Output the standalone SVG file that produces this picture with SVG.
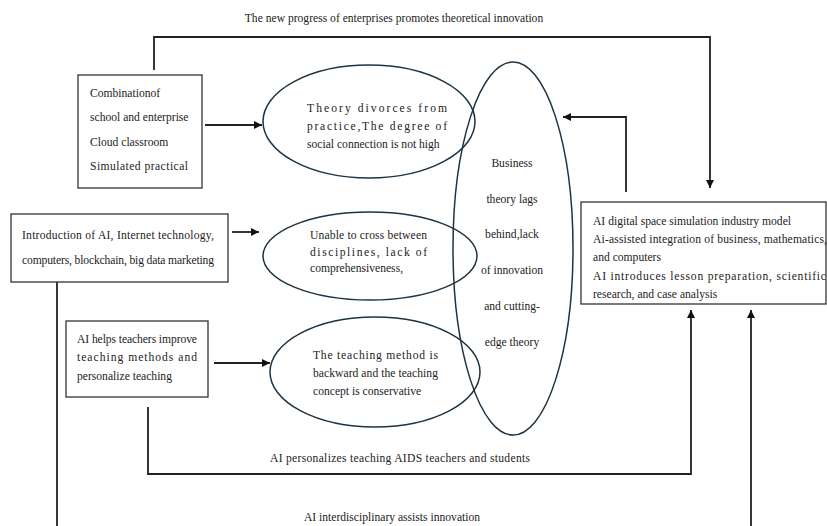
<svg xmlns="http://www.w3.org/2000/svg" width="827" height="526" viewBox="0 0 827 526" font-family="'Liberation Serif', 'Times New Roman', serif">
<style>
text{font-family:"Liberation Serif","Times New Roman",serif;font-size:11.6px;fill:#222}
.box{fill:#fff;stroke:#333;stroke-width:1.3}
.ell{fill:none;stroke:#1c3444;stroke-width:1.5}
.con{fill:none;stroke:#222;stroke-width:1.8}
.mid{text-anchor:middle}
</style>
<defs>
<marker id="ah" markerUnits="userSpaceOnUse" markerWidth="9" markerHeight="8" refX="8" refY="4" orient="auto">
<path d="M0,0 L8,4 L0,8 z" fill="#111"/>
</marker>
</defs>
<rect width="827" height="526" fill="#fff"/>

<g id="connectors">
<path class="con" d="M154,70 V37 H710 V188" marker-end="url(#ah)"/>
<path class="con" d="M205,125 H262" marker-end="url(#ah)"/>
<path class="con" d="M232,232 H259" marker-end="url(#ah)"/>
<path class="con" d="M214,363 H270" marker-end="url(#ah)"/>
<path class="con" d="M626,192 V117 H563" marker-end="url(#ah)"/>
<path class="con" d="M148,407 V474 H691 V310" marker-end="url(#ah)"/>
<path class="con" d="M57,280 V526"/>
<path class="con" d="M751,526 V310" marker-end="url(#ah)"/>
<text x="394" y="22" class="mid">The new progress of enterprises promotes theoretical innovation</text>
<text x="270" y="462" textLength="260" lengthAdjust="spacing">AI personalizes teaching AIDS teachers and students</text>
<text x="392" y="521" class="mid">AI interdisciplinary assists innovation</text>
</g>

<g id="box1">
<rect class="box" x="78" y="75" width="124" height="113"/>
<text x="90" y="97">Combinationof</text>
<text x="90" y="121">school and enterprise</text>
<text x="90" y="146">Cloud classroom</text>
<text x="90" y="170" textLength="98" lengthAdjust="spacing">Simulated practical</text>
</g>

<g id="box2">
<rect class="box" x="11" y="214" width="217" height="68"/>
<text x="22" y="239" textLength="192" lengthAdjust="spacing">Introduction of AI, Internet technology,</text>
<text x="22" y="264" textLength="192" lengthAdjust="spacing">computers, blockchain, big data marketing</text>
</g>

<g id="box3">
<rect class="box" x="66" y="321" width="142" height="76"/>
<text x="77" y="343" textLength="120" lengthAdjust="spacing">AI helps teachers improve</text>
<text x="77" y="361" textLength="120" lengthAdjust="spacing">teaching methods and</text>
<text x="77" y="380">personalize teaching</text>
</g>

<g id="ellipse1">
<ellipse class="ell" cx="369" cy="121.5" rx="106" ry="56.5"/>
<text x="307" y="112" textLength="140" lengthAdjust="spacing">Theory divorces from</text>
<text x="307" y="130" textLength="140" lengthAdjust="spacing">practice,The degree of</text>
<text x="307" y="148">social connection is not high</text>
</g>

<g id="ellipse2">
<ellipse class="ell" cx="370" cy="256" rx="107" ry="44"/>
<text x="310" y="239" textLength="117" lengthAdjust="spacing">Unable to cross between</text>
<text x="310" y="256" textLength="117" lengthAdjust="spacing">disciplines, lack of</text>
<text x="310" y="272">comprehensiveness,</text>
</g>

<g id="ellipse3">
<ellipse class="ell" cx="375" cy="372" rx="105" ry="55"/>
<text x="313" y="359" textLength="125" lengthAdjust="spacing">The teaching method is</text>
<text x="313" y="377" textLength="125" lengthAdjust="spacing">backward and the teaching</text>
<text x="313" y="395">concept is conservative</text>
</g>

<g id="bigEllipse">
<ellipse class="ell" cx="513" cy="248.5" rx="60" ry="186.5"/>
<text x="512" y="167" class="mid">Business</text>
<text x="512" y="203" class="mid">theory lags</text>
<text x="512" y="238" class="mid">behind,lack</text>
<text x="512" y="274" class="mid">of innovation</text>
<text x="512" y="310" class="mid">and cutting-</text>
<text x="512" y="346" class="mid">edge theory</text>
</g>

<g id="rightBox">
<rect class="box" x="581" y="202" width="245" height="102"/>
<text x="593" y="225">AI digital space simulation industry model</text>
<text x="593" y="243" textLength="234" lengthAdjust="spacing">Ai-assisted integration of business, mathematics,</text>
<text x="593" y="261">and computers</text>
<text x="593" y="280" textLength="233" lengthAdjust="spacing">AI introduces lesson preparation, scientific</text>
<text x="593" y="298">research, and case analysis</text>
</g>
</svg>
